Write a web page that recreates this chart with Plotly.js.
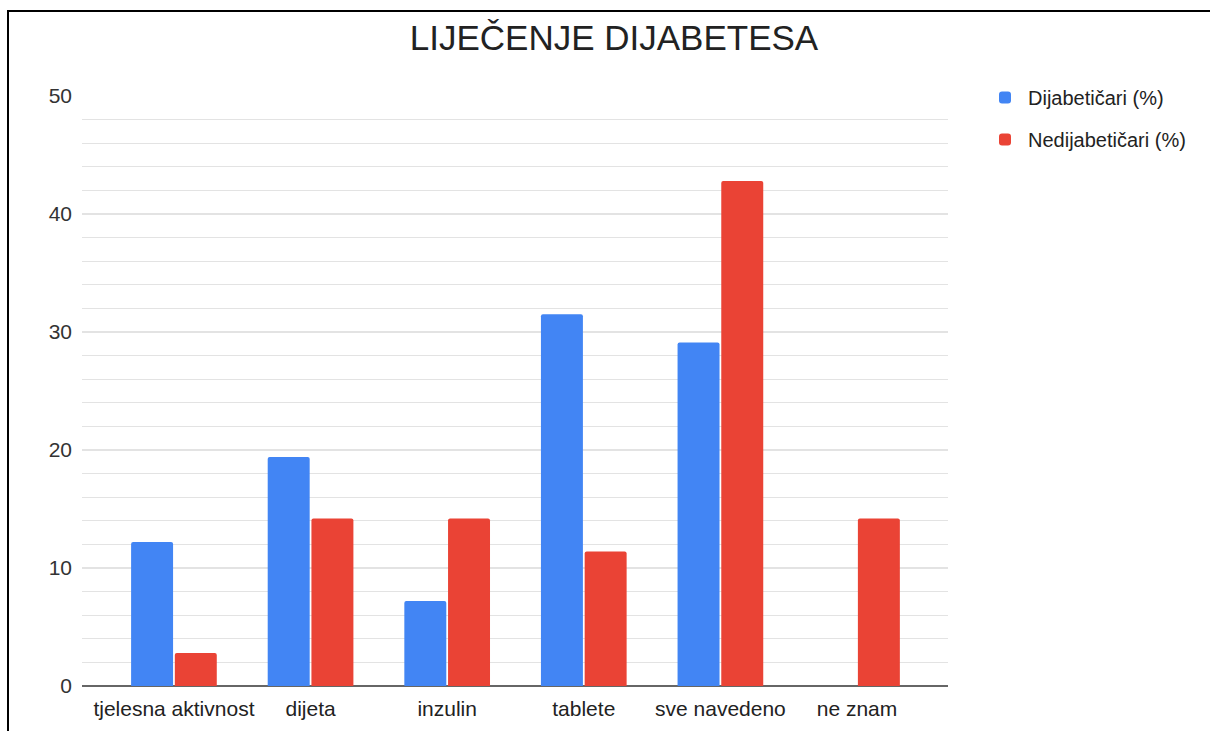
<!DOCTYPE html>
<html>
<head>
<meta charset="utf-8">
<script src="https://cdn.plot.ly/plotly-3.0.1.min.js"></script>
<style>
  html, body { margin: 0; padding: 0; background: #fff; }
  #chart { position: absolute; left: 0; top: 0; width: 1210px; height: 731px; }
  #frame { position: absolute; left: 7px; top: 10px; width: 1210px; height: 731px;
           border-left: 2.5px solid #000; border-top: 2.5px solid #000; pointer-events: none; }
</style>
</head>
<body>
<div id="chart"></div>
<div id="frame"></div>
<script>
const categories = ['tjelesna aktivnost', 'dijeta', 'inzulin', 'tablete', 'sve navedeno', 'ne znam'];
const dijabeticari = [12.2, 19.4, 7.2, 31.5, 29.1, 0];
const nedijabeticari = [2.8, 14.2, 14.2, 11.4, 42.8, 14.2];
const seriesNames = ['Dijabetičari (%)', 'Nedijabetičari (%)'];
const titleText = 'LIJEČENJE DIJABETESA';

const font = 'Liberation Sans, Arial, sans-serif';

const traces = [
  { type: 'bar', x: categories, y: dijabeticari, name: seriesNames[0],
    marker: { color: '#4285F4', cornerradius: 2 }, legendgroup: 'a', hoverinfo: 'none' },
  { type: 'bar', x: categories, y: nedijabeticari, name: seriesNames[1],
    marker: { color: '#EA4335', cornerradius: 2 }, legendgroup: 'b', hoverinfo: 'none' }
];

const layout = {
  width: 1210, height: 731,
  margin: { l: 82, r: 262, t: 96, b: 45, pad: 0 },
  paper_bgcolor: '#fff', plot_bgcolor: '#fff',
  font: { family: font, color: '#333', size: 21 },
  title: { text: titleText, x: 614 / 1210, xref: 'container', xanchor: 'center',
           y: 1 - 38 / 731, yref: 'container', yanchor: 'middle',
           font: { family: font, size: 35, color: '#222' } },
  barmode: 'group', bargap: 0.36, bargroupgap: 0.04,
  xaxis: { type: 'category', range: [-0.673, 5.666], showgrid: false, zeroline: false,
           showline: false, ticks: '', ticklabelstandoff: 8,
           tickfont: { family: font, size: 21, color: '#222' } },
  yaxis: { range: [0, 50], dtick: 10, showgrid: true, gridcolor: '#e3e3e3', gridwidth: 1.3,
           zeroline: true, zerolinecolor: '#666', zerolinewidth: 2,
           showline: false, ticks: '', ticklabelstandoff: 9,
           tickfont: { family: font, size: 21, color: '#333' },
           minor: { dtick: 2, showgrid: true, gridcolor: '#e3e3e3', gridwidth: 1.3 } },
  legend: { x: (982 - 82) / 866, xanchor: 'left', y: (686 - 78) / 590, yanchor: 'top',
            traceorder: 'grouped', tracegroupgap: 13, bgcolor: 'rgba(0,0,0,0)', itemwidth: 36,
            font: { family: font, size: 20, color: '#222' } },
  showlegend: true
};

Plotly.newPlot('chart', traces, layout, { displayModeBar: false, staticPlot: true });
</script>
</body>
</html>
